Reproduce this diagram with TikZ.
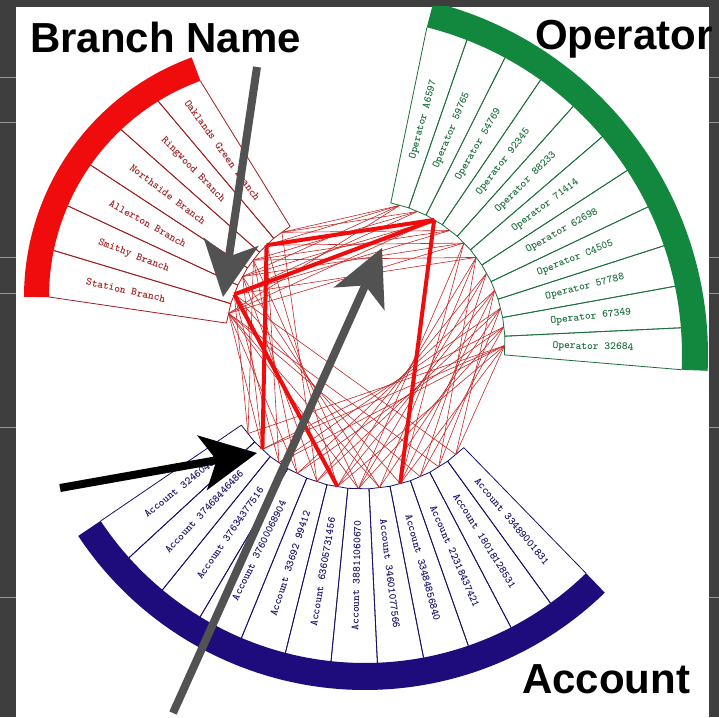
\documentclass[tikz,border=0pt]{standalone}
\usepackage{fontspec}
\setsansfont{Liberation Sans}
\usetikzlibrary{arrows.meta, calc}

\definecolor{slidegray}{RGB}{62,62,62}
\definecolor{stripegray}{RGB}{150,150,150}
\definecolor{arrowgray}{RGB}{82,82,82}
\definecolor{branchred}{RGB}{240,12,12}
\definecolor{branchdark}{RGB}{160,30,30}
\definecolor{linkred}{RGB}{200,40,40}
\definecolor{opgreen}{RGB}{18,135,62}
\definecolor{opdark}{RGB}{28,110,58}
\definecolor{accblue}{RGB}{30,12,125}
\definecolor{accdark}{RGB}{22,16,105}

\begin{document}
\begin{tikzpicture}[
    x=1pt, y=1pt,
    boxline/.style={draw=#1, line width=0.8pt, line join=round},
    boxtext/.style={text=#1, inner sep=0pt,
                    font=\fontsize{11}{11}\selectfont\ttfamily\bfseries},
    link/.style={draw=linkred, line width=0.6pt},
    heavylink/.style={draw=branchred, line width=4pt},
    title/.style={inner sep=0pt, anchor=base west,
                  font=\fontsize{42}{42}\selectfont\sffamily\bfseries},
    pointer/.style={line width=8pt,
                    -{Stealth[length=56pt, width=56pt, inset=15pt, line width=0pt]}}
  ]
  \useasboundingbox (-362,-374) rectangle (357,343);

  % Slide background
  \fill[slidegray] (-362,-374) rectangle (357,343);
  \foreach \yy in {265,220,85,50,-84,-254}
    \draw[stripegray, line width=1pt] (-362,\yy) -- (357,\yy);
  \fill[white] (-346,-374) rectangle (347,336);

  % Centres of the fans
  \coordinate (G) at (0,0);
  \coordinate (rc) at (-83,46);
  \coordinate (gc) at (-18,-12);
  \coordinate (bc) at (3,-3);

  \begin{scope}
    \clip (-346,-374) rectangle (347,336);

    % Branch fan
    \foreach \i in {0,...,6} {
      \pgfmathsetmacro{\ang}{110+70*\i/6}
      \coordinate (ro\i) at ($(rc)+(\ang:230)$);
      \coordinate (ri\i) at ($(G)!137pt!(ro\i)$);
    }
    \foreach \lab [count=\i] in {Oaklands Green Branch, Ringwood Branch,
        Northside Branch, Allerton Branch, Smithy Branch, Station Branch} {
      \pgfmathtruncatemacro{\j}{\i-1}
      \draw[boxline=branchdark] (ro\j) -- (ri\j) -- (ri\i) -- (ro\i);
      \coordinate (r\i) at ($(ri\j)!0.5!(ri\i)$);
      \path let \p1 = ($(ro\j)!0.5!(ro\i)$), \n1 = {atan2(\y1,\x1)},
                \n2 = {\n1>90 ? \n1-180 : (\n1<-90 ? \n1+180 : \n1)} in
        node[boxtext=branchdark, rotate=\n2] (rl\i) at ($(\p1)!0.42!(r\i)$) {\lab};
    }
    \draw[branchred, line width=25pt] ($(rc)+(110:242.5)$)
      arc[start angle=110, end angle=180, radius=242.5];

    % Operator fan
    \foreach \i in {0,...,11} {
      \pgfmathsetmacro{\ang}{75.8-78.3*\i/11}
      \coordinate (go\i) at ($(gc)+(\ang:338)$);
      \coordinate (gi\i) at ($(G)!143pt!(go\i)$);
    }
    \foreach \lab [count=\i] in {Operator A6597, Operator 59765, Operator 54769,
        Operator 92345, Operator 88233, Operator 71414, Operator 62698,
        Operator C4505, Operator 57788, Operator 67349, Operator 32684} {
      \pgfmathtruncatemacro{\j}{\i-1}
      \draw[boxline=opdark] (go\j) -- (gi\j) -- (gi\i) -- (go\i);
      \coordinate (g\i) at ($(gi\j)!0.5!(gi\i)$);
      \path let \p1 = ($(go\j)!0.5!(go\i)$), \n1 = {atan2(\y1,\x1)},
                \n2 = {\n1>90 ? \n1-180 : (\n1<-90 ? \n1+180 : \n1)} in
        node[boxtext=opdark, rotate=\n2] (gl\i) at ($(\p1)!0.5!(g\i)$) {\lab};
    }
    \draw[opgreen, line width=26pt] ($(gc)+(75.8:351)$)
      arc[start angle=75.8, end angle=-2.5, radius=351];

    % Account fan
    \foreach \i in {0,...,12} {
      \pgfmathsetmacro{\ang}{213.5+100.7*\i/12}
      \coordinate (bo\i) at ($(bc)+(\ang:317)$);
      \coordinate (bi\i) at ($(G)!146pt!(bo\i)$);
    }
    \foreach \lab [count=\i] in {Account 32460451, Account 37468446486,
        Account 37634377516, Account 37600068904, Account 33692 99412,
        Account 63605731456, Account 38811060670, Account 34601077566,
        Account 33484856840, Account 22318437421, Account 18018128531,
        Account 33489001831} {
      \pgfmathtruncatemacro{\j}{\i-1}
      \draw[boxline=accdark] (bo\j) -- (bi\j) -- (bi\i) -- (bo\i);
      \coordinate (b\i) at ($(bi\j)!0.5!(bi\i)$);
      \path let \p1 = ($(bo\j)!0.5!(bo\i)$), \n1 = {atan2(\y1,\x1)},
                \n2 = {\n1>90 ? \n1-180 : (\n1<-90 ? \n1+180 : \n1)} in
        node[boxtext=accdark, rotate=\n2] (bl\i) at ($(\p1)!0.5!(b\i)$) {\lab};
    }
    \draw[accblue, line width=27pt] ($(bc)+(213.5:330.5)$)
      arc[start angle=213.5, end angle=314.2, radius=330.5];

    % Links between the fans
    \foreach \p/\q in {1/1, 1/2, 1/4, 2/1, 2/3, 2/5, 3/2, 3/4, 3/6, 4/1, 4/3,
        4/5, 5/2, 5/4, 5/6, 6/1, 6/3, 6/5}
      \draw[link] (r\p) -- (g\q);
    \foreach \p/\q in {1/11, 2/10, 2/11, 3/9, 3/11, 4/8, 4/10, 5/7, 5/9, 6/6,
        6/8, 6/11, 7/5, 7/7, 7/10, 8/6, 8/9, 9/5, 9/8, 9/11, 10/7, 10/10,
        11/6, 11/9, 12/8, 12/11}
      \draw[link] (b\p) -- (g\q);
    \foreach \p/\q in {1/3, 1/5, 2/4, 2/6, 3/2, 3/5, 4/3, 4/6, 5/1, 5/4, 6/2,
        6/5, 7/3, 7/6, 8/4, 8/6, 9/5, 10/6, 11/6, 12/5}
      \draw[link] (b\p) -- (r\q);
    \draw[heavylink] (r5) -- (g3);
    \draw[heavylink] (r2) -- (g3);
    \draw[heavylink] (r2) -- (b2);
    \draw[heavylink] (r5) -- (b6);
    \draw[heavylink] (g3) -- (b9);
  \end{scope}

  % Titles
  \node[title] (branchname) at (-332,290) {Branch Name};
  \node[title] (operator) at (173,293) {Operator};
  \node[title] (account) at (160,-350) {Account};

  % Pointers
  \coordinate (nametail) at (-105,276);
  \coordinate (nametip) at (-139,46);
  \coordinate (edgetail) at (-302,-145);
  \coordinate (edgetip) at (-105,-110);
  \coordinate (linktail) at (-189,-370);
  \coordinate (linktip) at (20,95);
  \draw[pointer, arrowgray] (nametail) -- (nametip);
  \draw[pointer, black] (edgetail) -- (edgetip);
  \draw[pointer, arrowgray] (linktail) -- (linktip);
\end{tikzpicture}
\end{document}
